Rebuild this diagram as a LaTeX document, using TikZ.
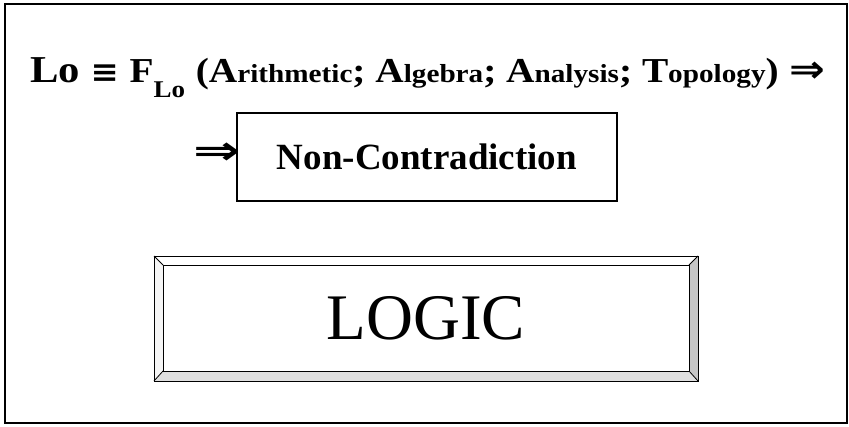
\documentclass[tikz,border=0pt]{standalone}
\usepackage{fontspec}
\setmainfont{Liberation Serif}
\newfontfamily\symfont{DejaVu Sans}
\usetikzlibrary{positioning}
% big initials and small rest of the words in the headline
\newcommand\initl[1]{{\fontsize{35}{36}\selectfont #1}}
\newcommand\restl[1]{{\fontsize{26}{30}\selectfont #1}}
\tikzset{
  frame/.style={draw, line width=1.4pt},
  headline/.style={font=\bfseries, inner sep=0pt, anchor=base west},
  ncbox/.style={rectangle, draw, line width=1.1pt, inner sep=0pt, minimum width=380pt, minimum height=88pt, font=\bfseries\fontsize{37}{40}\selectfont},
  implies/.style={font=\symfont\bfseries\fontsize{40}{40}\selectfont, inner sep=0pt},
  bevel/.style={draw, line width=0.8pt},
  logicbox/.style={rectangle, draw, line width=0.8pt, inner sep=0pt, minimum width=526pt, minimum height=106pt, font=\fontsize{65}{70}\selectfont}
}

\begin{document}
\begin{tikzpicture}[x=1pt,y=-1pt]
\useasboundingbox (0,0) rectangle (849,426);
\draw[frame] (5,4) rectangle (847,423);

\node[headline] (formula) at (30,82) {\resizebox{795pt}{\height}{\fontsize{38}{40}\selectfont Lo\ {\symfont\fontsize{30}{30}\selectfont ≡}\ \initl{F}\raisebox{-15pt}{\fontsize{24}{24}\selectfont Lo}\ \initl{(A}\restl{rithmetic}\initl{; A}\restl{lgebra}\initl{; A}\restl{nalysis}\initl{; T}\restl{opology}\initl{)}\ {\symfont ⇒}}};

\node[ncbox] (nc) at (427,157) {Non-Contradiction};
\node[implies, left=-4pt of nc, yshift=3pt] (into) {\scalebox{1.4}[1]{⇒}};

% bevelled frame
\fill[white] (154,256) -- (698,256) -- (689,265) -- (163,265) -- cycle;
\fill[gray!8] (154,256) -- (163,265) -- (163,371) -- (154,381) -- cycle;
\fill[gray!45] (698,256) -- (698,381) -- (689,371) -- (689,265) -- cycle;
\fill[gray!25] (154,381) -- (698,381) -- (689,371) -- (163,371) -- cycle;
\draw[bevel] (154,256) rectangle (698,381);
\draw[bevel] (154,256) -- (163,265) (698,256) -- (689,265)
  (154,381) -- (163,371) (698,381) -- (689,371);
\node[logicbox] (logic) at (426,318) {LOGIC};
\end{tikzpicture}
\end{document}
